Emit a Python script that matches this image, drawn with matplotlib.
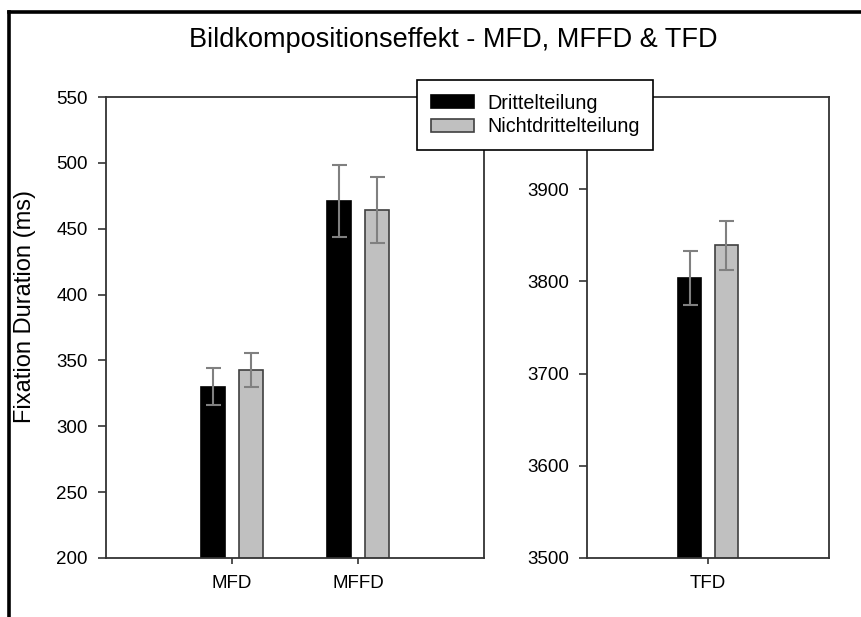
import matplotlib
matplotlib.use("Agg")
import matplotlib.pyplot as plt
from matplotlib.lines import Line2D
from matplotlib.patches import Patch

plt.rcParams['font.family'] = ['Liberation Sans', 'DejaVu Sans']

# mean fixation durations (ms) with standard errors
groups = ['Drittelteilung', 'Nichtdrittelteilung']
left_cats = ['MFD', 'MFFD']
left_means = {'Drittelteilung': [330, 471], 'Nichtdrittelteilung': [343, 464]}
left_err = {'Drittelteilung': [14, 27.5], 'Nichtdrittelteilung': [13, 25]}
right_cats = ['TFD']
right_means = {'Drittelteilung': [3804], 'Nichtdrittelteilung': [3839]}
right_err = {'Drittelteilung': [29.5], 'Nichtdrittelteilung': [27]}

colors = {'Drittelteilung': 'black', 'Nichtdrittelteilung': '#c0c0c0'}
edges = {'Drittelteilung': 'black', 'Nichtdrittelteilung': '#404040'}
offsets = {'Drittelteilung': -0.15, 'Nichtdrittelteilung': 0.15}
width = 0.19
spine_col = '#333333'

W, H = 862, 617
fig = plt.figure(figsize=(W / 100, H / 100), dpi=100)
fig.patch.set_facecolor('white')

ax1 = fig.add_axes([106 / W, 1 - 558 / H, 378 / W, 461 / H])
ax2 = fig.add_axes([587 / W, 1 - 558 / H, 242 / W, 461 / H])


def draw(ax, cats, means, errs):
    x = list(range(1, len(cats) + 1))
    for g in groups:
        xs = [i + offsets[g] for i in x]
        ax.bar(xs, means[g], width=width, color=colors[g], edgecolor=edges[g],
               linewidth=1.2, zorder=2)
        ax.errorbar(xs, means[g], yerr=errs[g], fmt='none', ecolor='#808080',
                    elinewidth=1.5, capsize=5.4, capthick=1.5, zorder=3)
    ax.set_xticks(x)
    ax.set_xticklabels(cats)
    for s in ax.spines.values():
        s.set_color(spine_col)
        s.set_linewidth(1.3)
    ax.tick_params(axis='y', direction='out', length=6, width=1.2, color=spine_col,
                   labelsize=13.5, pad=7, right=False)
    ax.tick_params(axis='x', direction='out', length=4.5, width=1.2, color=spine_col,
                   labelsize=13.5, pad=8, top=False)


draw(ax1, left_cats, left_means, left_err)
ax1.set_xlim(0, 3)
ax1.set_ylim(200, 550)
ax1.set_yticks(range(200, 551, 50))

draw(ax2, right_cats, right_means, right_err)
ax2.set_xlim(0, 2)
ax2.set_ylim(3500, 4000)
ax2.set_yticks(range(3500, 3901, 100))

fig.text(25 / W, 1 - 306 / H, 'Fixation Duration (ms)', rotation=90,
         ha='center', va='center', fontsize=17)
fig.text(453 / W, 1 - 40 / H, 'Bildkompositionseffekt - MFD, MFFD & TFD',
         ha='center', va='center', fontsize=19.5)

handles = [Patch(facecolor=colors[g], edgecolor=edges[g], linewidth=1.2) for g in groups]
leg = fig.legend(handles, groups, loc='upper left', bbox_to_anchor=(417 / W, 1 - 80 / H),
                 fontsize=14.2, frameon=True, fancybox=False, framealpha=1,
                 edgecolor='black', handlelength=2.2, handleheight=0.62,
                 handletextpad=0.65, labelspacing=0.22, borderpad=0.7, borderaxespad=0)
leg.get_frame().set_linewidth(1.2)

# outer frame, only left and top edges fall inside the canvas
fig.add_artist(Line2D([9 / W, 9 / W], [0, 1 - 11.5 / H], color='black', lw=2.6))
fig.add_artist(Line2D([9 / W, 1], [1 - 11.5 / H, 1 - 11.5 / H], color='black', lw=2.6))

fig.savefig('out.png', dpi=100)
